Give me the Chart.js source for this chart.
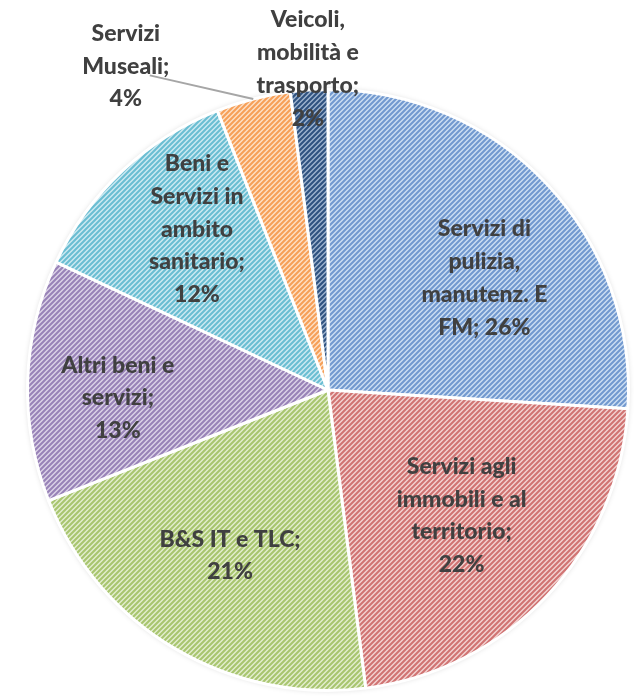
<!DOCTYPE html>
<html>
<head>
<meta charset="utf-8">
<script src="https://cdn.jsdelivr.net/npm/chart.js@4"></script>
<style>
  body { margin: 0; background: #fff; }
  canvas { display: block; }
</style>
</head>
<body>
<canvas id="pie" width="641" height="697"></canvas>
<script>
const categories = [
    'Servizi di pulizia, manutenz. E FM',
    'Servizi agli immobili e al territorio',
    'B&S IT e TLC',
    'Altri beni e servizi',
    'Beni e Servizi in ambito sanitario',
    'Servizi Museali',
    'Veicoli, mobilità e trasporto'
];
const shares = [26, 22, 21, 13, 12, 4, 2];
// label text as broken into lines in the original
const labelLines = [
    ['Servizi di', 'pulizia,', 'manutenz. E', 'FM; 26%'],
    ['Servizi agli', 'immobili e al', 'territorio;', '22%'],
    ['B&S IT e TLC;', '21%'],
    ['Altri beni e', 'servizi;', '13%'],
    ['Beni e', 'Servizi in', 'ambito', 'sanitario;', '12%'],
    ['Servizi', 'Museali;', '4%'],
    ['Veicoli,', 'mobilità e', 'trasporto;', '2%']
];

const ctx = document.getElementById('pie').getContext('2d');

function hatch(bg, fg) {
    let c = document.createElement('canvas');
    c.width = 5; c.height = 5;
    let x = c.getContext('2d');
    x.fillStyle = bg;
    x.fillRect(0, 0, 5, 5);
    x.strokeStyle = fg;
    x.lineWidth = 2.1;
    x.beginPath();
    x.moveTo(0, 5); x.lineTo(5, 0);
    x.moveTo(-1, 1); x.lineTo(1, -1);
    x.moveTo(4, 6); x.lineTo(6, 4);
    x.stroke();
    return ctx.createPattern(c, 'repeat');
}

const fills = [
    hatch('#cddff3', '#7299cf'),
    hatch('#f3d3d2', '#d07372'),
    hatch('#e3eecf', '#a8c56f'),
    hatch('#dcd3e8', '#9882b7'),
    hatch('#cdeaf2', '#6abdd2'),
    hatch('#fde0c6', '#f69f58'),
    hatch('#9fb4cf', '#2f5280')
];

// per label: fraction of radius, angle shift in degrees
const labelPlace = [
    [0.64, 7.6], [0.61, 0], [0.64, 0], [0.70, -4], [0.69, 4], [1.27, -17.6], [1.07, 0]
];

const pieLabels = {
    id: 'pieLabels',
    beforeDatasetsDraw(chart) {
        let arc = chart.getDatasetMeta(0).data[0];
        let c = chart.ctx;
        c.save();
        c.shadowColor = 'rgba(0,0,0,0.25)';
        c.shadowBlur = 6;
        c.fillStyle = '#fff';
        c.beginPath();
        c.arc(arc.x, arc.y, arc.outerRadius - 1, 0, Math.PI * 2);
        c.fill();
        c.restore();
    },
    afterDatasetsDraw(chart) {
        let c = chart.ctx;
        let meta = chart.getDatasetMeta(0);
        c.save();
        c.font = '900 23px Lato';
        c.fillStyle = '#404040';
        c.textAlign = 'center';
        c.textBaseline = 'middle';
        meta.data.forEach((arc, i) => {
            let p = arc.getProps(['x', 'y', 'startAngle', 'endAngle', 'outerRadius']);
            let mid = (p.startAngle + p.endAngle) / 2;
            let a = mid + labelPlace[i][1] * Math.PI / 180;
            let r = p.outerRadius * labelPlace[i][0];
            let lx = p.x + Math.cos(a) * r;
            let ly = p.y + Math.sin(a) * r;
            if (labelPlace[i][0] > 1.2) {
                c.strokeStyle = '#a6a6a6';
                c.lineWidth = 2;
                c.beginPath();
                c.moveTo(lx + 24, ly + 9);
                c.lineTo(p.x + Math.cos(mid) * p.outerRadius, p.y + Math.sin(mid) * p.outerRadius);
                c.stroke();
            }
            let lines = labelLines[i];
            let lh = 32.7;
            lines.forEach((t, j) => {
                c.fillText(t, lx, ly + (j - (lines.length - 1) / 2) * lh);
            });
        });
        c.restore();
    }
};

new Chart(ctx, {
    type: 'pie',
    data: {
        labels: categories,
        datasets: [{
            data: shares,
            backgroundColor: fills,
            borderColor: '#ffffff',
            borderWidth: 3
        }]
    },
    options: {
        responsive: false,
        animation: false,
        layout: { padding: { left: 26, right: 11, top: 88, bottom: 5 } },
        plugins: { legend: { display: false }, tooltip: { enabled: false } }
    },
    plugins: [pieLabels]
});
</script>
</body>
</html>
